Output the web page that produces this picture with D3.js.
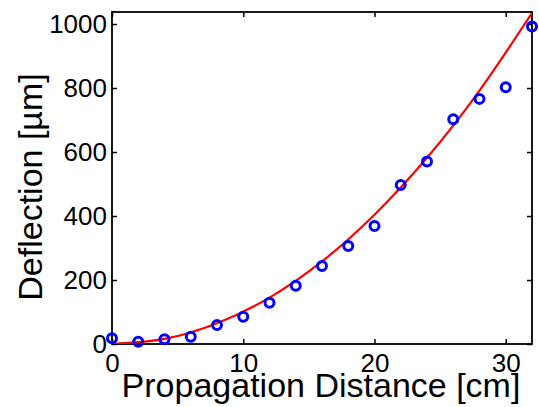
<!DOCTYPE html>
<html>
<head>
<meta charset="utf-8">
<script src="https://cdn.jsdelivr.net/npm/d3@7"></script>
<style>
	body { margin: 0; background: #fff; }
	svg { display: block; font-family: 'Liberation Sans', Arial, sans-serif; }
	.tick text { font-size: 26px; fill: #000; }
	.labels__text { font-size: 34px; fill: #000; }
</style>
</head>
<body>
<svg></svg>
<script>
// measured points
const distance = [0, 2, 4, 6, 8, 10, 12, 14, 16, 18, 20, 22, 24, 26, 28, 30, 32];
const deflection = [18, 7, 15, 23, 59, 85, 129, 182, 244, 306, 369, 497, 570, 702, 766, 802, 992];

// fitted curve
const fitDistance = [0, 4, 8, 12, 16, 20, 24, 28, 32];
const fitDeflection = [0, 16, 65, 145, 258, 404, 582, 792, 1034];

const xTicks = [0, 10, 20, 30];
const yTicks = [0, 200, 400, 600, 800, 1000];

const width = 539;
const height = 407;
const margin = { top: 12, right: 7, bottom: 63, left: 112 };
const innerWidth = width - margin.left - margin.right;
const innerHeight = height - margin.top - margin.bottom;
const tickLen = 5;

const svg = d3.select('svg')
		.attr('width', width)
		.attr('height', height);

const xScale = d3.scaleLinear()
	.domain([0, 32])
	.range([0, innerWidth]);

const yScale = d3.scaleLinear()
	.domain([0, 1037.5])
	.range([innerHeight, 0]);

const g = svg.append('g')
	.attr('transform', `translate(${margin.left},${margin.top})`);

g.append('clipPath')
	.attr('id', 'plot-clip')
	.append('rect')
		.attr('width', innerWidth)
		.attr('height', innerHeight);

// axes, ticks pointing inward like matlab
const xAxisG = g.append('g')
	.attr('transform', `translate(0,${innerHeight})`)
	.call(d3.axisBottom(xScale).tickValues(xTicks).tickSize(-tickLen).tickPadding(9.5).tickFormat(d3.format('d')));
const yAxisG = g.append('g')
	.call(d3.axisLeft(yScale).tickValues(yTicks).tickSize(-tickLen).tickPadding(5).tickFormat(d3.format('d')));
g.append('g')
	.call(d3.axisTop(xScale).tickValues(xTicks).tickSize(-tickLen).tickFormat(''));
g.append('g')
	.attr('transform', `translate(${innerWidth},0)`)
	.call(d3.axisRight(yScale).tickValues(yTicks).tickSize(-tickLen).tickFormat(''));

g.selectAll('.domain').remove();
g.selectAll('.tick line').attr('stroke', '#000').attr('stroke-width', 1.5);
g.selectAll('.tick text').attr('font-family', null).attr('font-size', null);

g.append('rect')
	.attr('width', innerWidth)
	.attr('height', innerHeight)
	.attr('fill', 'none')
	.attr('stroke', '#000')
	.attr('stroke-width', 1.8);

// fit line
const fit = fitDistance.map((d, i) => ({ x: d, y: fitDeflection[i] }));
const line = d3.line()
	.x(d => xScale(d.x))
	.y(d => yScale(d.y))
	.curve(d3.curveNatural);

g.append('path')
	.datum(fit)
	.attr('clip-path', 'url(#plot-clip)')
	.attr('d', line)
	.attr('fill', 'none')
	.attr('stroke', '#ff0000')
	.attr('stroke-width', 2.2);

// measured circles
const points = distance.map((d, i) => ({ x: d, y: deflection[i] }));
g.selectAll('circle').data(points)
	.enter().append('circle')
		.attr('cx', d => xScale(d.x))
		.attr('cy', d => yScale(d.y))
		.attr('r', 4.5)
		.attr('fill', 'none')
		.attr('stroke', '#0000ff')
		.attr('stroke-width', 3);

// axis labels
svg.append('text')
	.attr('class', 'labels__text')
	.attr('x', 321)
	.attr('y', 397)
	.attr('text-anchor', 'middle')
	.text('Propagation Distance [cm]');

svg.append('text')
	.attr('class', 'labels__text')
	.attr('transform', 'translate(42,187) rotate(-90)')
	.attr('text-anchor', 'middle')
	.text('Deflection [µm]');
</script>
</body>
</html>
